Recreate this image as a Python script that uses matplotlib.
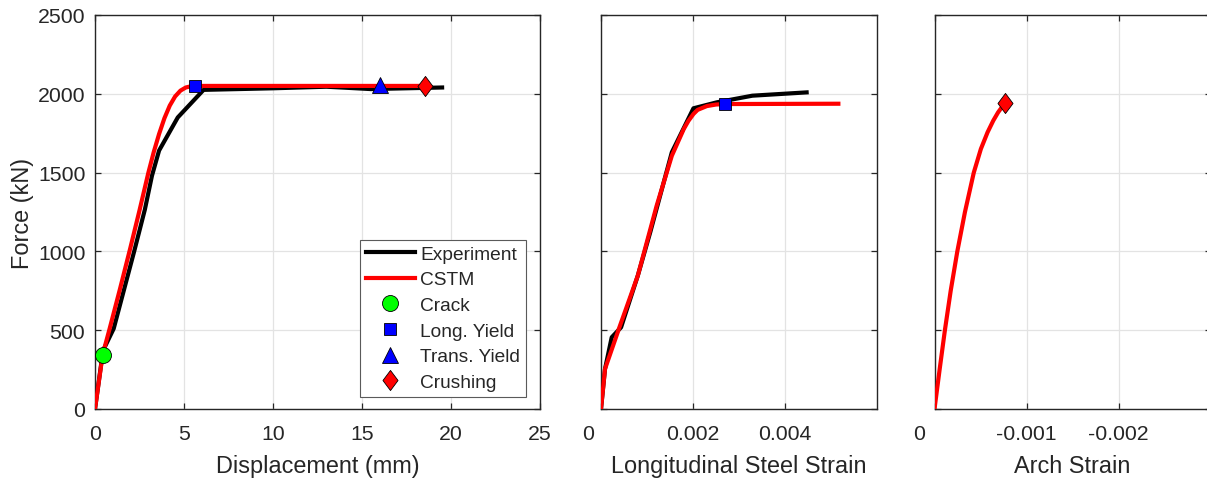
import matplotlib
matplotlib.use("Agg")
import matplotlib.pyplot as plt
from matplotlib.lines import Line2D
from matplotlib.path import Path

plt.rcParams['font.family'] = ['Liberation Sans', 'DejaVu Sans']
plt.rcParams['axes.unicode_minus'] = False

# ---- Force vs displacement ----
disp_exp = [0, 0.45, 1.05, 2.2, 2.8, 3.2, 3.6, 4.65, 6.1, 10.0, 13.0, 15.5, 19.5]
force_exp = [0, 370, 510, 1000, 1265, 1480, 1640, 1850, 2025, 2035, 2045, 2030, 2040]

disp_cstm = [0, 0.43, 0.8, 1.4, 1.97, 2.5, 3.0, 3.3, 3.6, 3.9, 4.2, 4.5, 4.8, 5.1, 5.4, 5.6, 18.55]
force_cstm = [0, 345, 500, 760, 1015, 1260, 1500, 1630, 1745, 1845, 1925, 1983, 2020, 2040, 2048, 2050, 2050]

crack_disp, crack_force = 0.43, 345
long_yield_disp, long_yield_force = 5.6, 2050
trans_yield_disp, trans_yield_force = 16.0, 2055
crush_disp, crush_force = 18.55, 2050

# ---- Force vs longitudinal steel strain ----
steel_exp = [0, 0.000087, 0.000233, 0.000436, 0.0008, 0.00107, 0.00154, 0.00201, 0.00252, 0.00329, 0.00447]
steel_exp_force = [0, 254, 455, 518, 846, 1121, 1629, 1908, 1946, 1988, 2009]

steel_cstm = [0, 0.000087, 0.0004, 0.0008, 0.00121, 0.00154, 0.0018, 0.0019, 0.00201, 0.0021,
              0.0023, 0.0025, 0.00269, 0.00516]
steel_cstm_force = [0, 254, 518, 846, 1290, 1607, 1777, 1828, 1872, 1898, 1922, 1932, 1935, 1937]
steel_yield_strain, steel_yield_force = 0.00269, 1935

# ---- Force vs arch strain ----
arch_cstm = [0, -0.0000556, -0.000113, -0.000176, -0.000248, -0.000331, -0.000427,
             -0.000504, -0.000577, -0.000639, -0.000691, -0.000732, -0.000768]
arch_cstm_force = [0, 250, 500, 750, 1000, 1250, 1500, 1650, 1756, 1830, 1882, 1915, 1940]
arch_crush_strain, arch_crush_force = -0.000768, 1940

force_ticks = [0, 500, 1000, 1500, 2000, 2500]

TXT = '#262626'
GRID = '#e3e3e3'
RED = '#ff0000'
LW = 3.0
TICK_FS = 15.3
LABEL_FS = 16.9

# taller-than-wide diamond marker
diamond = Path([(0, 1), (0.75, 0), (0, -1), (-0.75, 0), (0, 1)],
               [Path.MOVETO, Path.LINETO, Path.LINETO, Path.LINETO, Path.CLOSEPOLY])

mk_circle = dict(marker='o', ms=11.5, mfc='#00ff00', mec='k', mew=0.6, ls='none')
mk_square = dict(marker='s', ms=8.6, mfc='#0000ff', mec='k', mew=0.6, ls='none')
mk_tri = dict(marker='^', ms=11.5, mfc='#0000ff', mec='k', mew=0.6, ls='none')
mk_dia = dict(marker=diamond, ms=14.5, mfc=RED, mec='k', mew=0.6, ls='none')

fig = plt.figure(figsize=(12.07, 4.81), dpi=100)
H = 394 / 481
B = 71 / 481
ax1 = fig.add_axes([95 / 1207, B, 445 / 1207, H])
ax2 = fig.add_axes([601 / 1207, B, 276 / 1207, H])
ax3 = fig.add_axes([934.5 / 1207, B, 276 / 1207, H])


def style(ax):
    ax.set_ylim(0, 2500)
    ax.set_yticks(force_ticks)
    ax.grid(True, color=GRID, lw=0.9)
    ax.set_axisbelow(True)
    for s in ax.spines.values():
        s.set_color(TXT)
        s.set_linewidth(1.0)
    ax.tick_params(direction='in', length=4, width=0.9, color=TXT,
                   top=True, right=True, labelsize=TICK_FS, labelcolor=TXT)
    ax.tick_params(axis='x', pad=11)
    ax.tick_params(axis='y', pad=7)


# left: displacement
style(ax1)
ax1.plot(disp_exp, force_exp, color='k', lw=LW, zorder=3)
ax1.plot(disp_cstm, force_cstm, color=RED, lw=LW, zorder=4)
ax1.plot([crack_disp], [crack_force], zorder=5, **mk_circle)
ax1.plot([long_yield_disp], [long_yield_force], zorder=5, **mk_square)
ax1.plot([trans_yield_disp], [trans_yield_force], zorder=5, **mk_tri)
ax1.plot([crush_disp], [crush_force], zorder=5, **mk_dia)
ax1.set_xlim(0, 25)
ax1.set_xticks([0, 5, 10, 15, 20, 25])
ax1.set_xlabel('Displacement (mm)', fontsize=LABEL_FS, color=TXT, labelpad=8)
ax1.set_ylabel('Force (kN)', fontsize=LABEL_FS, color=TXT, labelpad=3)

handles = [
    Line2D([], [], color='k', lw=LW),
    Line2D([], [], color=RED, lw=LW),
    Line2D([], [], **mk_circle),
    Line2D([], [], **mk_square),
    Line2D([], [], **mk_tri),
    Line2D([], [], **mk_dia),
]
labels = ['Experiment', 'CSTM', 'Crack', 'Long. Yield', 'Trans. Yield', 'Crushing']
leg = ax1.legend(handles, labels, loc='lower right', bbox_to_anchor=(0.9685, 0.031),
                 borderaxespad=0, fontsize=13.8, frameon=True, fancybox=False,
                 edgecolor='#5a5a5a', framealpha=1, handlelength=2.55,
                 handletextpad=0.3, labelspacing=0.43, borderpad=0.3)
leg.get_frame().set_linewidth(0.8)
for t in leg.get_texts():
    t.set_color(TXT)

# middle: longitudinal steel strain
style(ax2)
ax2.plot(steel_exp, steel_exp_force, color='k', lw=LW, zorder=3)
ax2.plot(steel_cstm, steel_cstm_force, color=RED, lw=LW, zorder=4)
ax2.plot([steel_yield_strain], [steel_yield_force], zorder=5, **mk_square)
ax2.set_xlim(0, 0.006)
ax2.set_xticks([0, 0.002, 0.004])
ax2.set_xticklabels(['', '0.002', '0.004'])
ax2.set_yticklabels([])
ax2.set_xlabel('Longitudinal Steel Strain', fontsize=LABEL_FS, color=TXT, labelpad=8)

# right: arch strain (compression to the right)
style(ax3)
ax3.plot(arch_cstm, arch_cstm_force, color=RED, lw=LW, zorder=4)
ax3.plot([arch_crush_strain], [arch_crush_force], zorder=5, **mk_dia)
ax3.set_xlim(0, -0.003)
ax3.set_xticks([0, -0.001, -0.002])
ax3.set_xticklabels(['', '-0.001', '-0.002'])
ax3.set_yticklabels([])
ax3.set_xlabel('Arch Strain', fontsize=LABEL_FS, color=TXT, labelpad=8)

# zero labels sit slightly left of the origin on the strain axes
for ax, dx in ((ax2, -9.0), (ax3, -11.0)):
    ax.annotate('0', xy=(0, 0), xycoords=('data', 'axes fraction'),
                xytext=(dx, -11), textcoords='offset points',
                ha='center', va='top', fontsize=TICK_FS, color=TXT,
                annotation_clip=False)

fig.savefig('out.png', dpi=100)
